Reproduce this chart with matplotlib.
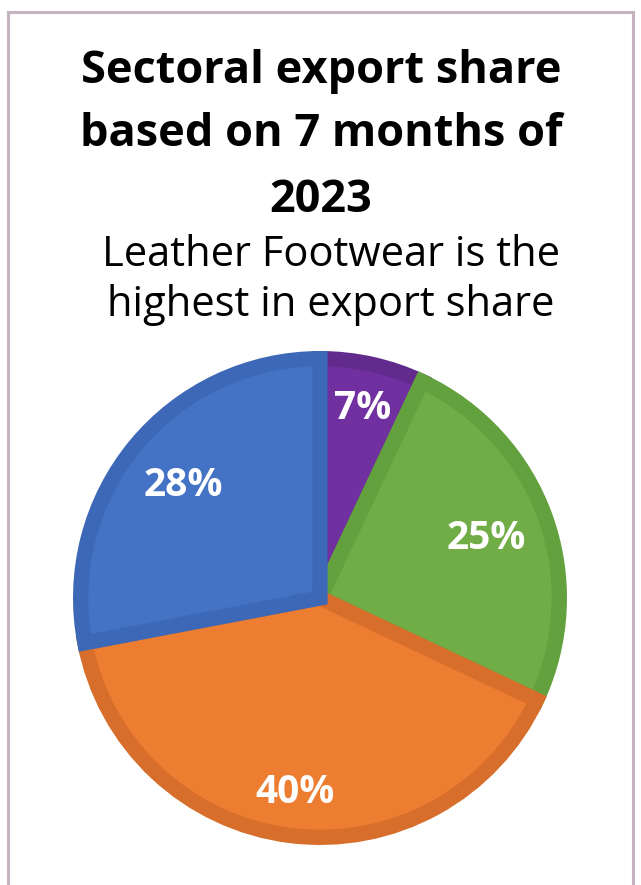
import matplotlib
matplotlib.use("Agg")
import matplotlib.pyplot as plt
from matplotlib.patches import Rectangle
import numpy as np

title_lines = ["Sectoral export share", "based on 7 months of", "2023"]
subtitle_lines = ["Leather Footwear is the", "highest in export share"]
shares = [7, 25, 40, 28]
labels = ["7%", "25%", "40%", "28%"]
colors = ["#7030a0", "#70ad47", "#ed7d31", "#4472c4"]
edge_colors = ["#612a8c", "#63a03e", "#d76e2b", "#3d68b8"]
label_dist = [0.81, 0.74, 0.82, 0.74]

W, H = 641, 885
fig = plt.figure(figsize=(W / 100, H / 100), dpi=100)
fig.patch.set_facecolor("white")

# outer frame
fig.patches.append(Rectangle((8 / W, -0.05), (633 - 8) / W, (H - 12) / H + 0.05,
                             transform=fig.transFigure, fill=False,
                             edgecolor="#c6b3c0", linewidth=2.2))

title_y = [72, 135, 200]
for t, y in zip(title_lines, title_y):
    fig.text(321 / W, 1 - y / H, t, ha="center", va="center",
             fontsize=32.5, fontweight="bold", family="Open Sans", color="black")
sub_y = [255, 305]
for t, y in zip(subtitle_lines, sub_y):
    fig.text(331 / W, 1 - y / H, t, ha="center", va="center",
             fontsize=30, family="Open Sans", color="black")

cx, cy, r = 320, 598, 246
ax = fig.add_axes([(cx - r) / W, (H - cy - r) / H, 2 * r / W, 2 * r / H])
R = 0.973
wedges, texts = ax.pie(
    shares, colors=colors, startangle=90, counterclock=False, radius=R,
    wedgeprops=dict(linewidth=0))
for w, ec, lab, d in zip(wedges, edge_colors, labels, label_dist):
    w.set_edgecolor(ec)
    w.set_linewidth(11)
    w.set_clip_path(w.get_path(), w.get_transform())
    ang = np.deg2rad((w.theta1 + w.theta2) / 2)
    ax.text(d * R * np.cos(ang), d * R * np.sin(ang), lab, ha="center", va="center",
            color="white", fontsize=28, fontweight="bold", family="Open Sans")
ax.set_xlim(-1, 1)
ax.set_ylim(-1, 1)
ax.set_aspect("equal")
ax.axis("off")

fig.savefig("out.png", dpi=100, facecolor="white")
